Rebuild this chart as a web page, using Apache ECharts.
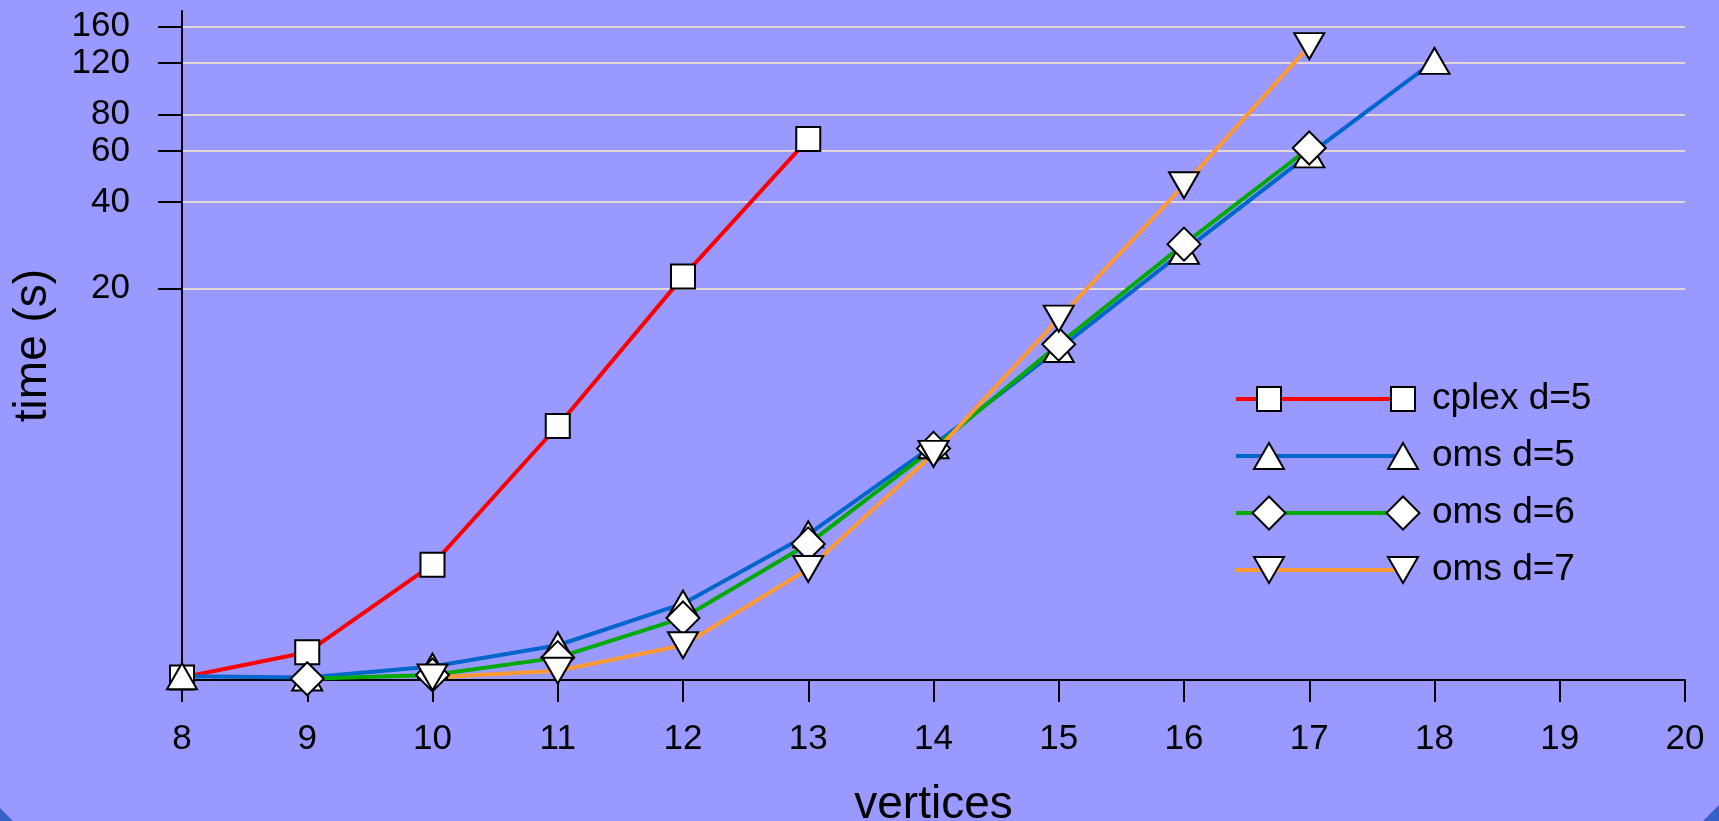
<!DOCTYPE html>
<html>
<head>
<meta charset="utf-8">
<script src="https://cdn.jsdelivr.net/npm/echarts@6/dist/echarts.min.js"></script>
<style>
    html, body { margin: 0; padding: 0; background: #3561c8; }
    #chart {
        width: 1719px;
        height: 821px;
        background: #9999ff;
        clip-path: polygon(0 0, 100% 0, 100% calc(100% - 16px), calc(100% - 16px) 100%, 13px 100%, 0 calc(100% - 13px));
    }
</style>
</head>
<body>
<div id="chart"></div>
<script>
// number of vertices on the x axis (each series starts at its own size)
const xCplexD5 = [8, 9, 10, 11, 12, 13];
const xOmsD5 = [8, 9, 10, 11, 12, 13, 14, 15, 16, 17, 18];
const xOmsD6 = [9, 10, 11, 12, 13, 14, 15, 16, 17];
const xOmsD7 = [10, 11, 12, 13, 14, 15, 16, 17];
// run time in seconds
const cplexD5 = [0.02, 0.24, 1.45, 6.2, 22, 66];
const omsD5 = [0.03, 0.02, 0.11, 0.31, 0.81, 2.1, 5.2, 12.1, 27.1, 58.5, 122];
const omsD6 = [0.01, 0.04, 0.19, 0.62, 1.88, 5.05, 12.6, 28.6, 61.5];
const omsD7 = [0.02, 0.075, 0.31, 1.37, 4.8, 15.6, 45.8, 137];
const yTicks = [20, 40, 60, 80, 120, 160];
const names = ['cplex d=5', 'oms d=5', 'oms d=6', 'oms d=7'];
const colors = ['#ff0000', '#0066cc', '#00aa00', '#ff9933'];

// the time axis is drawn as log(t + 1)
function warp(t) { return Math.log(t + 1); }
function unwarp(v) { return Math.round(Math.exp(v) - 1); }

const FONT = 'Liberation Sans, Arial, sans-serif';
const tickVals = yTicks.map(warp);

function toPairs(xs, arr) {
    return arr.map(function (t, i) { return [xs[i], warp(t)]; });
}

const marks = [
    { symbol: 'rect', size: [24, 24], rotate: 0 },
    { symbol: 'triangle', size: [30, 26], rotate: 0 },
    { symbol: 'diamond', size: [33, 33], rotate: 0 },
    { symbol: 'triangle', size: [30, 26], rotate: 180 }
];
const seriesX = [xCplexD5, xOmsD5, xOmsD6, xOmsD7];
const seriesY = [cplexD5, omsD5, omsD6, omsD7];

let series = seriesY.map(function (arr, i) {
    return {
        name: names[i],
        type: 'line',
        data: toPairs(seriesX[i], arr),
        symbol: marks[i].symbol,
        symbolSize: marks[i].size,
        symbolRotate: marks[i].rotate,
        showAllSymbol: true,
        lineStyle: { color: colors[i], width: 4 },
        itemStyle: { color: '#ffffff', borderColor: '#000000', borderWidth: 2 },
        emphasis: { disabled: true }
    };
});

// legend drawn by hand: line with a marker at both ends, like the original
function legendShape(i, cx, cy) {
    const m = marks[i];
    const w = m.size[0] / 2, h = m.size[1] / 2;
    const st = { fill: '#ffffff', stroke: '#000000', lineWidth: 2 };
    if (m.symbol === 'rect') {
        return { type: 'rect', shape: { x: cx - w, y: cy - h, width: w * 2, height: h * 2 }, style: st, z: 10 };
    }
    if (m.symbol === 'diamond') {
        return { type: 'polygon', shape: { points: [[cx, cy - h], [cx + w, cy], [cx, cy + h], [cx - w, cy]] }, style: st, z: 10 };
    }
    if (m.rotate === 180) {
        return { type: 'polygon', shape: { points: [[cx - w, cy - h], [cx + w, cy - h], [cx, cy + h]] }, style: st, z: 10 };
    }
    return { type: 'polygon', shape: { points: [[cx, cy - h], [cx + w, cy + h], [cx - w, cy + h]] }, style: st, z: 10 };
}

let graphics = [];
names.forEach(function (n, i) {
    const y = 399 + i * 57;
    graphics.push({ type: 'line', shape: { x1: 1236, y1: y, x2: 1403, y2: y }, style: { stroke: colors[i], lineWidth: 4 }, z: 9 });
    graphics.push(legendShape(i, 1269, y));
    graphics.push(legendShape(i, 1403, y));
    graphics.push({ type: 'text', x: 1432, y: y, style: { text: n, font: '37px ' + FONT, fill: '#000', verticalAlign: 'middle', align: 'left' }, z: 10 });
});

let myChart = echarts.init(document.getElementById('chart'));
myChart.setOption({
    animation: false,
    backgroundColor: 'transparent',
    textStyle: { fontFamily: FONT },
    grid: { left: 182, right: 34, top: 11, bottom: 141, outerBoundsMode: 'none' },
    xAxis: {
        type: 'value',
        min: 8,
        max: 20,
        interval: 1,
        name: 'vertices',
        nameLocation: 'middle',
        nameGap: 102,
        nameTextStyle: { fontSize: 46, color: '#000', fontFamily: FONT },
        axisLine: { lineStyle: { color: '#000', width: 2 } },
        axisTick: { length: 22, lineStyle: { color: '#000', width: 2 } },
        axisLabel: { fontSize: 35, color: '#000', margin: 42 },
        splitLine: { show: false }
    },
    yAxis: {
        type: 'value',
        min: 0,
        max: 5.2,
        name: 'time (s)',
        nameLocation: 'middle',
        nameGap: 126,
        nameTextStyle: { fontSize: 46, color: '#000', fontFamily: FONT },
        axisLine: { show: true, lineStyle: { color: '#000', width: 2 } },
        axisTick: { show: true, length: 24, customValues: tickVals, lineStyle: { color: '#000', width: 2 } },
        axisLabel: {
            fontSize: 35, color: '#000', margin: 52,
            customValues: tickVals,
            formatter: function (v) { return String(unwarp(v)); }
        },
        splitLine: { show: true, lineStyle: { color: '#e2d6d8', width: 2 } }
    },
    graphic: graphics,
    series: series
});
</script>
</body>
</html>
